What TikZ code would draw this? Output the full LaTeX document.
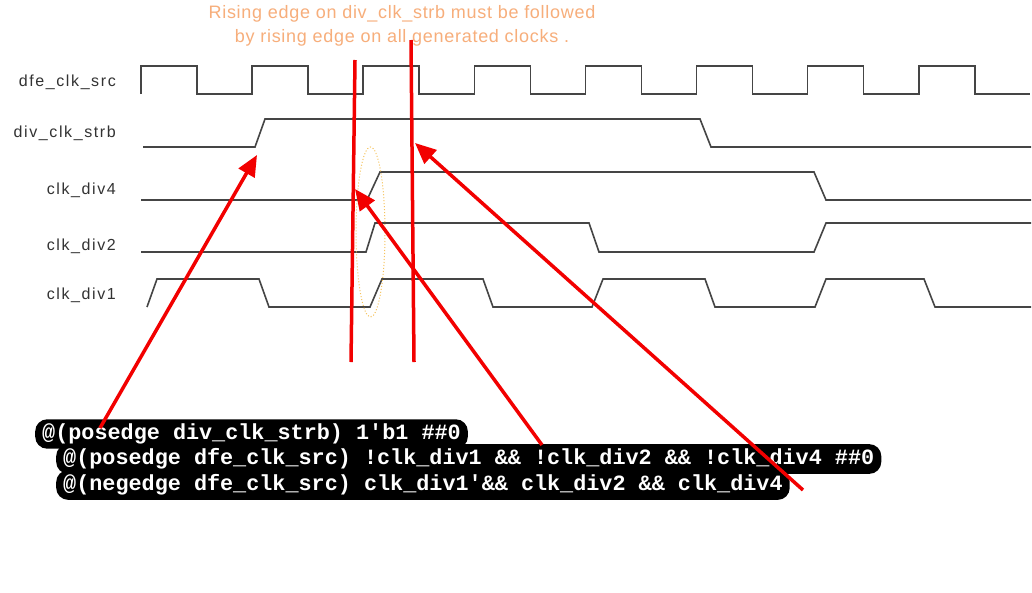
\documentclass[tikz,border=0pt]{standalone}
\usepackage{fontspec}
\setmainfont{Liberation Sans}
\setmonofont{Liberation Mono}
\newfontfamily\labelfont[LetterSpace=10]{Liberation Sans}
\newfontfamily\notefont[LetterSpace=4]{Liberation Sans}
\usetikzlibrary{arrows.meta, positioning, calc}
\definecolor{wavegray}{HTML}{454545}
\definecolor{labeltext}{HTML}{333333}
\definecolor{noteorange}{HTML}{F7AE7B}
\definecolor{markred}{HTML}{F20000}
\definecolor{ringgold}{HTML}{F6C25A}

\begin{document}
\begin{tikzpicture}[x=1pt, y=-1pt,
    wave/.style={draw=wavegray, line width=1.6pt},
    siglabel/.style={anchor=east, inner sep=0pt, text=labeltext,
      font=\labelfont\fontsize{16}{18}\selectfont},
    codeline/.style={anchor=west, fill=black, rounded corners=12pt,
      inner xsep=7pt, inner ysep=4.5pt, text=white,
      font=\ttfamily\bfseries\fontsize{21.8}{24}\selectfont},
    marker/.style={draw=markred, line width=3.5pt},
    pointer/.style={draw=markred, line width=3.5pt,
      -{Triangle[length=21pt, width=18pt]}}]
  \useasboundingbox[fill=white] (0,0) rectangle (1032,592);

  % note on top
  \node[text=noteorange, align=center,
    font=\notefont\fontsize{18}{24}\selectfont]
    (note) at (402,26) {Rising edge on div\_clk\_strb must be followed\\
    by rising edge on all generated clocks .};

  % signal names
  \node[siglabel] (srcname)  at (116,82)  {dfe\_clk\_src};
  \node[siglabel] (strbname) at (116,133) {div\_clk\_strb};
  \node[siglabel] (div4name) at (116,190) {clk\_div4};
  \node[siglabel] (div2name) at (116,246) {clk\_div2};
  \node[siglabel] (div1name) at (116,295) {clk\_div1};

  % waveforms
  \draw[wave] (141,94) \foreach \i in {0,...,7} {
      -- ++(0,-28) -- ++(56,0) -- ++(0,28) -- ++(55.1,0)};
  \draw[wave] (143,147) -- (255,147) -- (265,119) -- (700,119)
    -- (711,147) -- (1031,147);
  \draw[wave] (141,200) -- (367,200) -- (380,172) -- (814,172)
    -- (826,200) -- (1031,200);
  \draw[wave] (141,252) -- (366,252) -- (375,223) -- (589,223)
    -- (599,252) -- (814,252) -- (826,223) -- (1031,223);
  \draw[wave] (147,307) -- (157,279) -- (259,279) -- (269,307)
    -- (370,307) -- (382,279) -- (483,279) -- (493,307)
    -- (592,307) -- (603,279) -- (705,279) -- (715,307)
    -- (815,307) -- (826,279) -- (924,279) -- (935,307) -- (1031,307);

  % ring round the first generated edges
  \draw[ringgold, dotted, line width=1pt] (370.5,232)
    ellipse [x radius=14.5, y radius=85];

  % assertion text
  \node[codeline] (code1) at (35,434)
    {@(posedge div\_clk\_strb) 1'b1 \#\#0};
  \node[codeline] (code2) at (56,459)
    {@(posedge dfe\_clk\_src) !clk\_div1 \&\& !clk\_div2 \&\& !clk\_div4 \#\#0};
  \node[codeline] (code3) at (56,485)
    {@(negedge dfe\_clk\_src) clk\_div1'\&\& clk\_div2 \&\& clk\_div4};

  % red marks
  \coordinate (posTop)  at (355,60);
  \coordinate (posBot)  at (351,362);
  \coordinate (negTop)  at (411,40);
  \coordinate (negBot)  at (414,362);
  \draw[marker] (posTop) -- (posBot);
  \draw[marker] (negTop) -- (negBot);

  \coordinate (strbTail) at (100,428);
  \coordinate (strbTip)  at (257,155);
  \coordinate (posTail)  at (542,445);
  \coordinate (posTip)   at (355,189);
  \coordinate (negTail)  at (803,490);
  \coordinate (negTip)   at (415,143);
  \draw[pointer] (strbTail) -- (strbTip);
  \draw[pointer] (posTail) -- (posTip);
  \draw[pointer] (negTail) -- (negTip);
\end{tikzpicture}
\end{document}
